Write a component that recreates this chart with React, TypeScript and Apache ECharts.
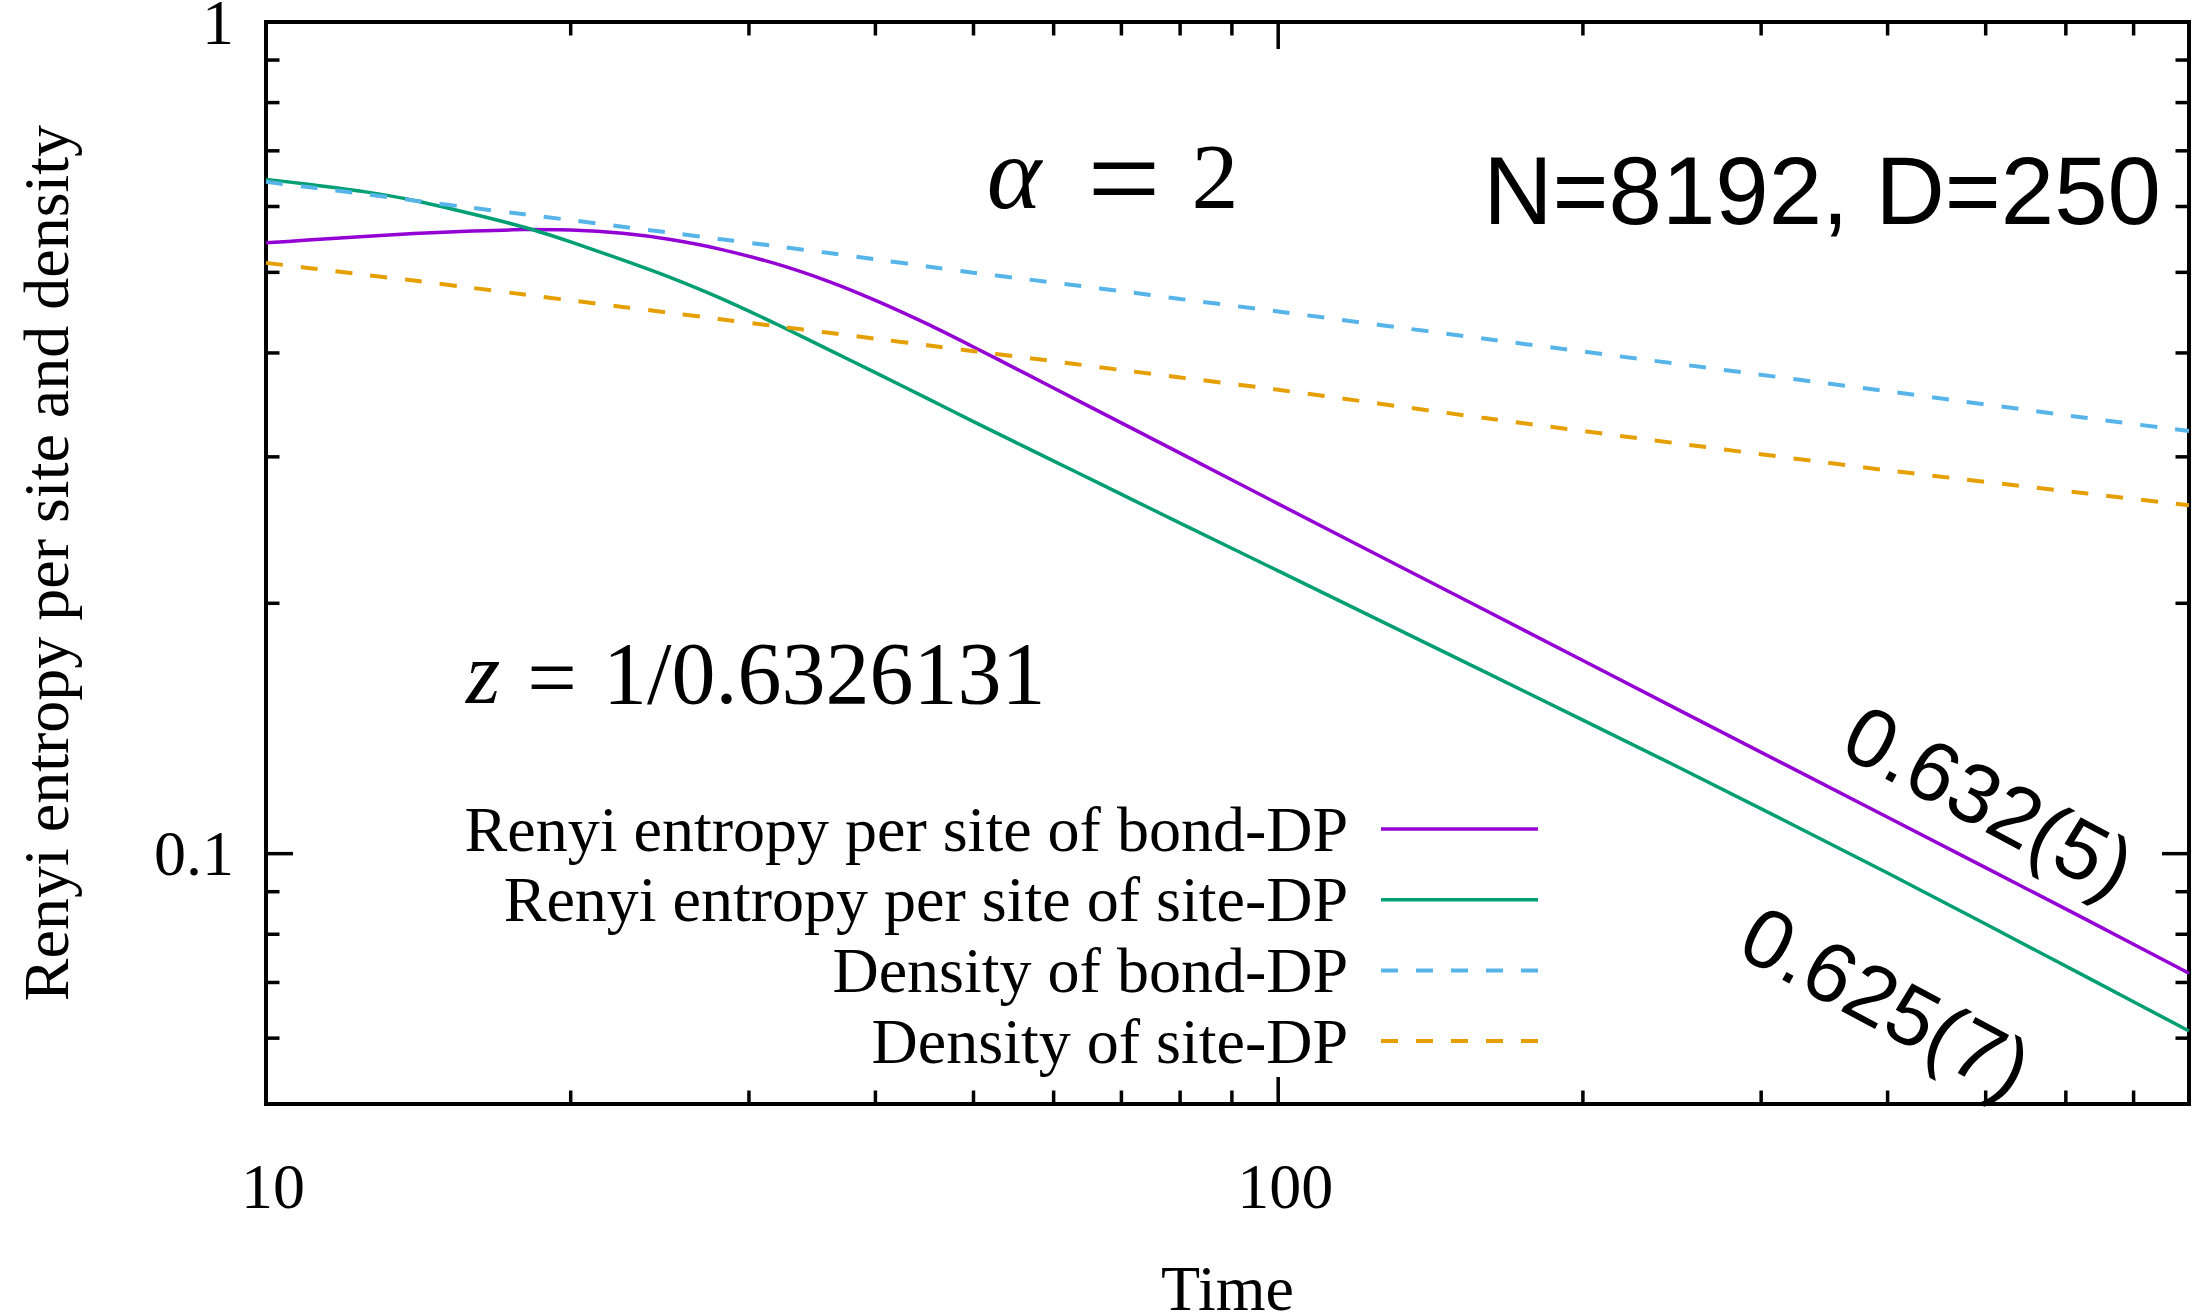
import React, { useEffect, useRef } from 'react';
import * as echarts from 'echarts';

// ---- data ----
const times = [10, 11, 12.5, 14, 16, 18, 20, 22.5, 25, 28, 32, 36, 40, 45, 50, 56, 63, 71, 80, 100, 160, 250, 400, 630, 794];
const renyiBond = [0.5426, 0.5467, 0.5521, 0.5566, 0.5605, 0.5628, 0.5622, 0.557, 0.5479, 0.5336, 0.5115, 0.4874, 0.4627, 0.4335, 0.4067, 0.379, 0.352, 0.3266, 0.3031, 0.2634, 0.1963, 0.1484, 0.1106, 0.0832, 0.0718];
const renyiSite = [0.6466, 0.6383, 0.6252, 0.6102, 0.5877, 0.5665, 0.544, 0.5176, 0.4938, 0.4665, 0.4328, 0.4034, 0.3788, 0.3527, 0.3307, 0.309, 0.2881, 0.2682, 0.2497, 0.2188, 0.1654, 0.1266, 0.0948, 0.071, 0.0612];
const densityBond = [0.6425, 0.6331, 0.621, 0.6101, 0.5977, 0.5871, 0.5778, 0.5673, 0.5582, 0.5485, 0.5374, 0.5274, 0.5184, 0.5083, 0.4995, 0.4911, 0.4824, 0.4735, 0.4645, 0.4486, 0.416, 0.3876, 0.3597, 0.334, 0.3222];
const densitySite = [0.5133, 0.5062, 0.4967, 0.4887, 0.4789, 0.4702, 0.4627, 0.4544, 0.4472, 0.4395, 0.4306, 0.4229, 0.4161, 0.4087, 0.402, 0.3952, 0.3879, 0.3807, 0.3738, 0.3612, 0.334, 0.311, 0.289, 0.271, 0.2624];

const seriesNames = [
  'Renyi entropy per site of bond-DP',
  'Renyi entropy per site of site-DP',
  'Density of bond-DP',
  'Density of site-DP',
];
const seriesColors = ['#9400d3', '#009e73', '#56b4e9', '#e69f00'];
const seriesDashed = [false, false, true, true];
const seriesValues = [renyiBond, renyiSite, densityBond, densitySite];

const xRange = [10, 794];
const yRange = [0.05, 1];
const xMajorTicks = [10, 100];
const xMinorTicks = [20, 30, 40, 50, 60, 70, 80, 90, 200, 300, 400, 500, 600, 700];
const yMajorTicks = [0.1, 1];
const yMinorTicks = [0.06, 0.07, 0.08, 0.09, 0.2, 0.3, 0.4, 0.5, 0.6, 0.7, 0.8, 0.9];

const xTitle = 'Time';
const yTitle = 'Renyi entropy per site and density';

const SERIF = '"Liberation Serif", "Times New Roman", serif';
const SANS = '"Liberation Sans", Arial, sans-serif';

export default function App() {
  const ref = useRef<HTMLDivElement>(null);

  useEffect(() => {
    if (!ref.current) return;
    const chart = echarts.init(ref.current, null, { renderer: 'svg' });

    const lineSeries = seriesNames.map((name, k) => ({
      type: 'line',
      name,
      data: times.map((t, i) => [t, seriesValues[k][i]]),
      symbol: 'none',
      smooth: 0.2,
      silent: true,
      z: 3,
      lineStyle: {
        color: seriesColors[k],
        width: seriesDashed[k] ? 4 : 3.5,
        type: seriesDashed[k] ? [17, 18] : 'solid',
      },
      itemStyle: { color: seriesColors[k] },
    }));

    const tickStyle = { stroke: '#000', lineWidth: 3.5 };

    const xTickSeries = {
      type: 'custom',
      name: 'xticks',
      silent: true,
      z: 6,
      clip: false,
      encode: { x: 0, y: 1 },
      data: [
        ...xMinorTicks.map((v) => [v, yRange[0], 0]),
        ...xMajorTicks.map((v) => [v, yRange[0], 1]),
      ],
      renderItem: (params: any, api: any) => {
        const v = api.value(0);
        const len = api.value(2) === 1 ? 27 : 13.5;
        const b = api.coord([v, yRange[0]]);
        const t = api.coord([v, yRange[1]]);
        return {
          type: 'group',
          children: [
            { type: 'line', shape: { x1: b[0], y1: b[1], x2: b[0], y2: b[1] - len }, style: tickStyle },
            { type: 'line', shape: { x1: t[0], y1: t[1], x2: t[0], y2: t[1] + len }, style: tickStyle },
          ],
        };
      },
    };

    const yTickSeries = {
      type: 'custom',
      name: 'yticks',
      silent: true,
      z: 6,
      clip: false,
      encode: { x: 0, y: 1 },
      data: [
        ...yMinorTicks.map((v) => [xRange[0], v, 0]),
        ...yMajorTicks.map((v) => [xRange[0], v, 1]),
      ],
      renderItem: (params: any, api: any) => {
        const v = api.value(1);
        const len = api.value(2) === 1 ? 27 : 13.5;
        const l = api.coord([xRange[0], v]);
        const r = api.coord([xRange[1], v]);
        return {
          type: 'group',
          children: [
            { type: 'line', shape: { x1: l[0], y1: l[1], x2: l[0] + len, y2: l[1] }, style: tickStyle },
            { type: 'line', shape: { x1: r[0], y1: r[1], x2: r[0] - len, y2: r[1] }, style: tickStyle },
          ],
        };
      },
    };

    const txt = (text: string, font: string, x: number, y: number, align: string, rotationDeg = 0) => ({
      type: 'text',
      x,
      y,
      rotation: (rotationDeg * Math.PI) / 180,
      z: 10,
      silent: true,
      style: {
        text,
        font,
        fill: '#000',
        align,
        verticalAlign: 'middle',
        textAlign: align,
        textVerticalAlign: 'middle',
      },
    });

    const option: any = {
      animation: false,
      backgroundColor: '#ffffff',
      grid: {
        left: 266,
        right: 7,
        top: 22,
        bottom: 212,
        containLabel: false,
        outerBoundsMode: 'none',
        show: true,
        borderColor: '#000',
        borderWidth: 4,
        backgroundColor: 'transparent',
      },
      legend: {
        data: seriesNames,
        orient: 'vertical',
        align: 'right',
        right: 656,
        top: 794,
        padding: 0,
        itemWidth: 157,
        itemHeight: 14,
        itemGap: 0.7,
        selectedMode: false,
        itemStyle: { opacity: 0 },
        lineStyle: { width: 'inherit' },
        textStyle: {
          fontFamily: SERIF,
          fontSize: 64,
          color: '#000',
          lineHeight: 48,
          padding: [22, 28, 0, 0],
        },
      },
      xAxis: {
        type: 'log',
        logBase: 10,
        min: xRange[0],
        max: xRange[1],
        name: xTitle,
        nameLocation: 'middle',
        nameGap: 184,
        nameTextStyle: { fontFamily: SERIF, fontSize: 64, color: '#000', verticalAlign: 'middle', lineHeight: 40 },
        axisLine: { show: false },
        axisTick: { show: false },
        splitLine: { show: false },
        minorTick: { show: false },
        axisLabel: {
          fontFamily: SERIF,
          fontSize: 64,
          color: '#000',
          margin: 82,
          verticalAlign: 'middle',
          padding: [0, 0, 0, 14],
          showMaxLabel: false,
          formatter: (v: number) => String(Number(v.toPrecision(6))),
        },
      },
      yAxis: {
        type: 'log',
        logBase: 10,
        min: yRange[0],
        max: yRange[1],
        name: yTitle,
        nameLocation: 'middle',
        nameRotate: 90,
        nameGap: 220,
        nameTextStyle: { fontFamily: SERIF, fontSize: 64, color: '#000', verticalAlign: 'middle', align: 'center' },
        axisLine: { show: false },
        axisTick: { show: false },
        splitLine: { show: false },
        minorTick: { show: false },
        axisLabel: {
          fontFamily: SERIF,
          fontSize: 64,
          color: '#000',
          margin: 32,
          verticalAlign: 'middle',
          lineHeight: 16,
          padding: [20, 0, 0, 0],
          showMinLabel: false,
          formatter: (v: number) => String(Number(v.toPrecision(6))),
        },
      },
      series: [...lineSeries, xTickSeries, yTickSeries],
      graphic: [
        txt('α', `italic 104px ${SERIF}`, 1014, 172, 'center'),
        txt('=', `130px ${SERIF}`, 1124, 178, 'center'),
        txt('2', `94px ${SERIF}`, 1215, 176, 'center'),
        txt('N=8192, D=250', `96px ${SANS}`, 2161, 190, 'right'),
        txt('z', `italic 88px ${SERIF}`, 483, 673, 'center'),
        txt('=', `88px ${SERIF}`, 552, 677, 'center'),
        txt('1/0.6326131', `88px ${SERIF}`, 603, 673, 'left'),
        txt('0.632(5)', `84px ${SANS}`, 1989, 801, 'center', -28),
        txt('0.625(7)', `84px ${SANS}`, 1886, 1002, 'center', -28),
      ],
    };

    chart.setOption(option);
    return () => chart.dispose();
  }, []);

  return (
    <div
      ref={ref}
      style={{ position: 'fixed', left: 0, top: 0, width: 2196, height: 1316, background: '#fff' }}
    />
  );
}
